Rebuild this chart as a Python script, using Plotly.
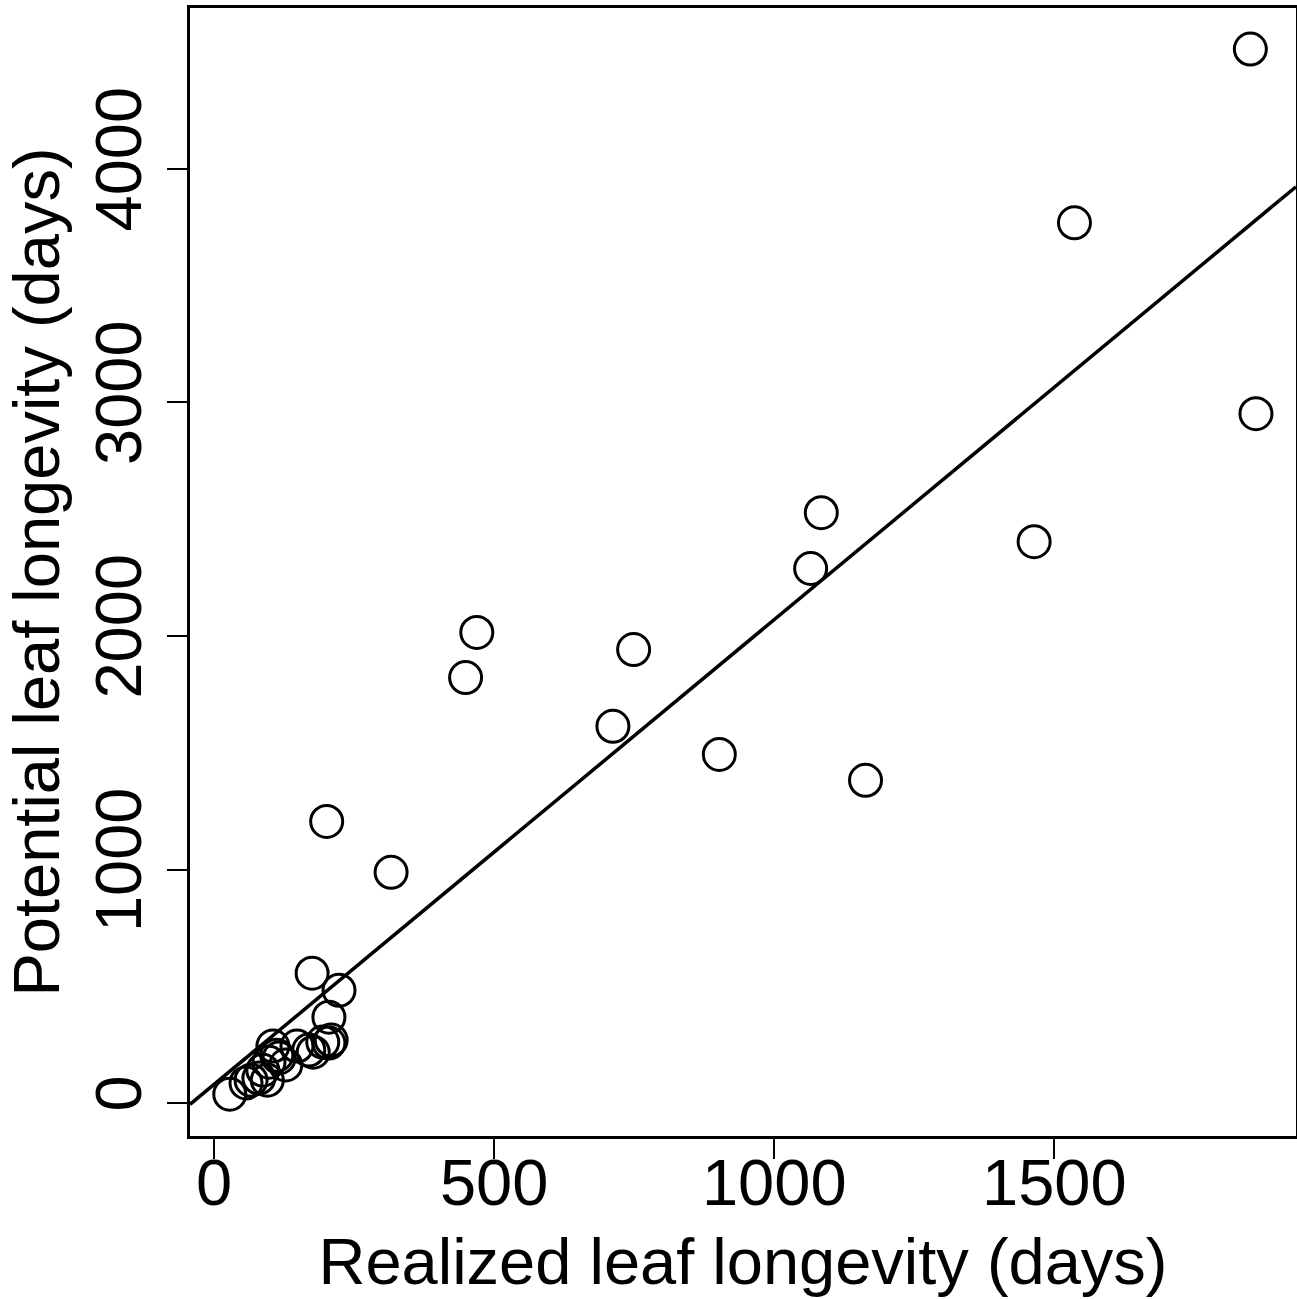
import plotly.graph_objects as go

# Realized (x) and potential (y) leaf longevity, days
realized = [1850, 1536, 1860, 1084, 1065, 1464, 469, 449, 749, 712, 902, 1163,
            201, 316, 175, 223, 205, 28,
            105, 112, 98, 128, 148, 169, 177, 194, 209, 205, 80, 95, 66, 57, 87, 116]
potential = [4513, 3769, 2952, 2528, 2289, 2404, 2015, 1822, 1942, 1613, 1493, 1382,
             1206, 988, 556, 483, 368, 38,
             244, 205, 175, 163, 244, 227, 218, 261, 270, 257, 107, 98, 98, 86, 141, 193]

fit_intercept = 80
fit_slope = 1.99

x_range = [-43, 1931.5]
y_range = [-141, 4689]

x_ticks = [0, 500, 1000, 1500]
y_ticks = [0, 1000, 2000, 3000, 4000]

x_title = "Realized leaf longevity (days)"
y_title = "Potential leaf longevity (days)"

FONT = "Liberation Sans, Arial, Helvetica, sans-serif"
FS = 65

fig = go.Figure()
fig.add_trace(go.Scatter(
    x=realized, y=potential, mode="markers",
    marker=dict(symbol="circle-open", size=32, color="black", line=dict(width=3, color="black")),
    showlegend=False, hoverinfo="x+y",
))
line_x = x_range
line_y = [fit_intercept + fit_slope * v for v in line_x]
fig.add_trace(go.Scatter(
    x=line_x, y=line_y, mode="lines",
    line=dict(color="black", width=3.5), showlegend=False, hoverinfo="skip",
))

fig.update_layout(
    width=1297, height=1299,
    margin=dict(l=190, r=1, t=8, b=163, autoexpand=False),
    paper_bgcolor="white", plot_bgcolor="white",
    font=dict(family=FONT, size=FS, color="black"),
)
fig.update_xaxes(
    range=x_range, tickvals=x_ticks, ticktext=[str(v) for v in x_ticks],
    showgrid=False, zeroline=False,
    showline=True, mirror=True, linecolor="black", linewidth=2.5,
    ticks="outside", ticklen=20, tickwidth=2, tickcolor="black",
    tickfont=dict(family=FONT, size=FS),
    ticklabelstandoff=-32,
    title=dict(text=x_title, font=dict(family=FONT, size=FS), standoff=21),
)
fig.update_yaxes(
    range=y_range, tickvals=y_ticks, ticktext=[str(v) for v in y_ticks],
    showgrid=False, zeroline=False,
    showline=True, mirror=True, linecolor="black", linewidth=2.5,
    ticks="outside", ticklen=20, tickwidth=2, tickcolor="black",
    tickangle=-90,
    tickfont=dict(family=FONT, size=FS),
    title=dict(text=y_title, font=dict(family=FONT, size=FS), standoff=7),
)

fig.write_html("out.html", config={"displayModeBar": False},
               post_script="document.body.style.margin='0';document.body.style.overflow='hidden';")
